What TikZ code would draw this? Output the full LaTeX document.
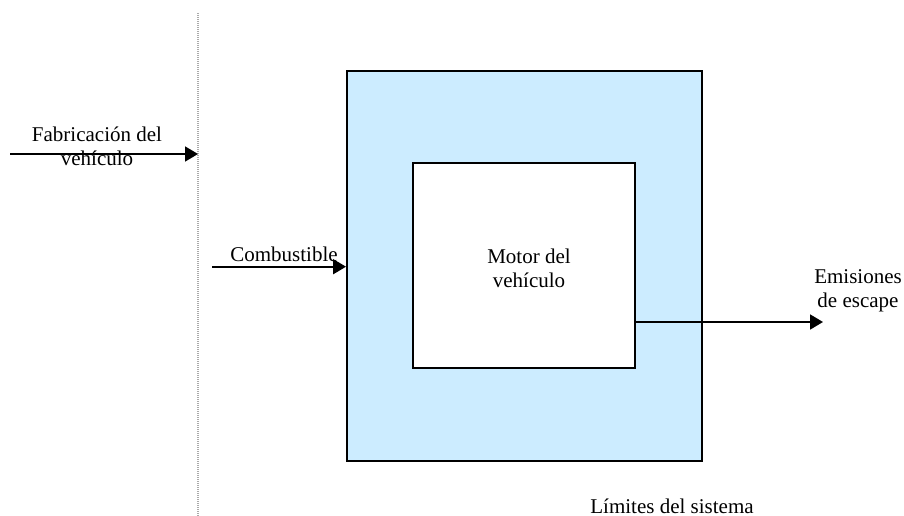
\documentclass[tikz,border=0pt]{standalone}
\usepackage{fontspec}
\setmainfont{Liberation Serif}
\usetikzlibrary{arrows.meta,calc}
\definecolor{boxblue}{RGB}{204,236,255}
\definecolor{dotgray}{RGB}{170,170,170}
\begin{document}
\begin{tikzpicture}[x=1pt,y=-1pt,
  lbl/.style={inner sep=0pt,font=\fontsize{21}{24}\selectfont,align=center},
  flow/.style={line width=1.8pt,-{Triangle[length=13pt,width=15pt]}},
  boxstyle/.style={draw=black,line width=2pt,inner sep=0pt}]
\useasboundingbox (0,0) rectangle (904,516);
% boundary (dotted)
\coordinate (lineTop) at (198,13);
\coordinate (lineBot) at (198,516);
\draw[dotgray,line width=2pt,dash pattern=on 1pt off 1pt] (lineTop) -- (lineBot);
% boxes
\node[boxstyle,fill=boxblue,minimum width=354.5pt,minimum height=390pt] (outer) at (524.25,265.7) {};
\node[boxstyle,fill=white,minimum width=222pt,minimum height=205.3pt] (inner) at (524,265.35) {};
% arrows
\coordinate (fabS) at (10,154);
\draw[flow] (fabS) -- (lineTop |- fabS);
\coordinate (combS) at (212,266.7);
\draw[flow] (combS) -- (outer.west |- combS);
\coordinate (emiS) at (inner.east |- 0,322);
\coordinate (emiE) at (823,322);
\draw[flow] (emiS) -- (emiE);
% labels (base anchor = baseline of last line)
\node[lbl,anchor=base] (fabT) at (97,165.7) {Fabricación del\\vehículo};
\node[lbl,anchor=base] (combT) at (284,261.7) {Combustible};
\node[lbl,anchor=base] (motT) at (529,287) {Motor del\\vehículo};
\node[lbl,anchor=base] (emiT) at (858,307) {Emisiones\\de escape};
\node[lbl,anchor=base] (limT) at (672,513) {Límites del sistema};
\end{tikzpicture}
\end{document}
